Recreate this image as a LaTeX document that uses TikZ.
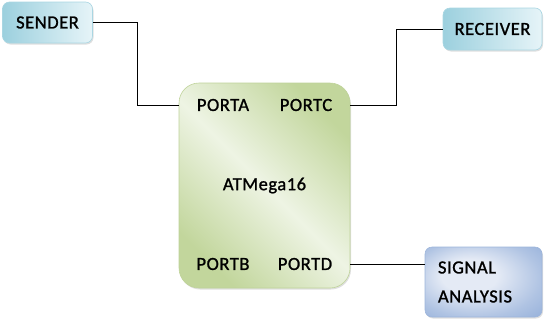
\documentclass[tikz,border=0pt]{standalone}
\usepackage{fontspec}
\newfontfamily\diagfont{Carlito}[FakeBold=1.2, LetterSpace=3]
\usetikzlibrary{positioning, calc, shadows}
\definecolor{skydark}{HTML}{9CD0DE}
\definecolor{skylight}{HTML}{E6F4F8}
\definecolor{skyedge}{HTML}{A9D6E2}
\definecolor{leafdark}{HTML}{C2D69C}
\definecolor{leaflight}{HTML}{EEF4E4}
\definecolor{leafedge}{HTML}{BFD39A}
\definecolor{bluedark}{HTML}{8DAAD7}
\definecolor{bluelight}{HTML}{E4EAF5}
\definecolor{blueedge}{HTML}{9DB5DB}
\definecolor{ink}{HTML}{000000}
\pgfdeclareradialshading{bluesoft}{\pgfpoint{-8bp}{6bp}}{%
    color(0bp)=(bluelight); color(12bp)=(bluelight);
    color(28bp)=(bluedark!60!bluelight); color(42bp)=(bluedark); color(50bp)=(bluedark)}

\begin{document}
\begin{tikzpicture}[
    x=1pt, y=-1pt,
    box/.style={
        draw=#1edge, line width=0.6pt, rounded corners=7pt,
        font=\diagfont\fontsize{18.5}{29}\selectfont, text=ink,
        drop shadow={opacity=0.25, shadow xshift=1pt, shadow yshift=-1.5pt}
    },
    portlabel/.style={font=\diagfont\fontsize{18.5}{20}\selectfont, text=ink, inner sep=0pt},
    link/.style={draw=ink, line width=0.8pt}
]
\useasboundingbox (0,0) rectangle (545,322);

% === End points ===

% Sender (top left)
\node[box=sky, left color=skydark, right color=skylight,
      minimum width=90pt, minimum height=41pt] (sender) at (47.5,22.5) {SENDER};

% Receiver (top right)
\node[box=sky, left color=skydark, right color=skylight,
      minimum width=99pt, minimum height=42pt] (receiver) at (492.5,29) {RECEIVER};

% Signal analysis (bottom right)
\node[box=blue, shading=bluesoft,
      minimum width=117pt, minimum height=70pt, text width=91pt, align=left,
      inner xsep=13pt] (signal) at (483.5,282) {SIGNAL\\ANALYSIS};

% === Microcontroller ===
\node[box=leaf, rounded corners=20pt,
      top color=leafdark, bottom color=leafdark, middle color=leaflight,
      shading angle=-45,
      minimum width=171pt, minimum height=205pt] (mcu) at (264.5,185.5) {};
\node[portlabel] (chip) at (mcu.center) {ATMega16};

% Port labels
\node[portlabel] (porta) at (223,105) {PORTA};
\node[portlabel] (portc) at (306,105) {PORTC};
\node[portlabel] (portb) at (223,264) {PORTB};
\node[portlabel] (portd) at (305,264) {PORTD};

% === Connectors ===

% Sender -> PORTA
\draw[link] (sender.east) -- ++(45,0) |- (mcu.west |- porta);

% PORTC -> Receiver
\draw[link] (receiver.west) -- ++(-46,0) |- (mcu.east |- portc);

% PORTD -> Signal analysis
\draw[link] (mcu.east |- portd) -- (signal.west |- portd);

\end{tikzpicture}
\end{document}
